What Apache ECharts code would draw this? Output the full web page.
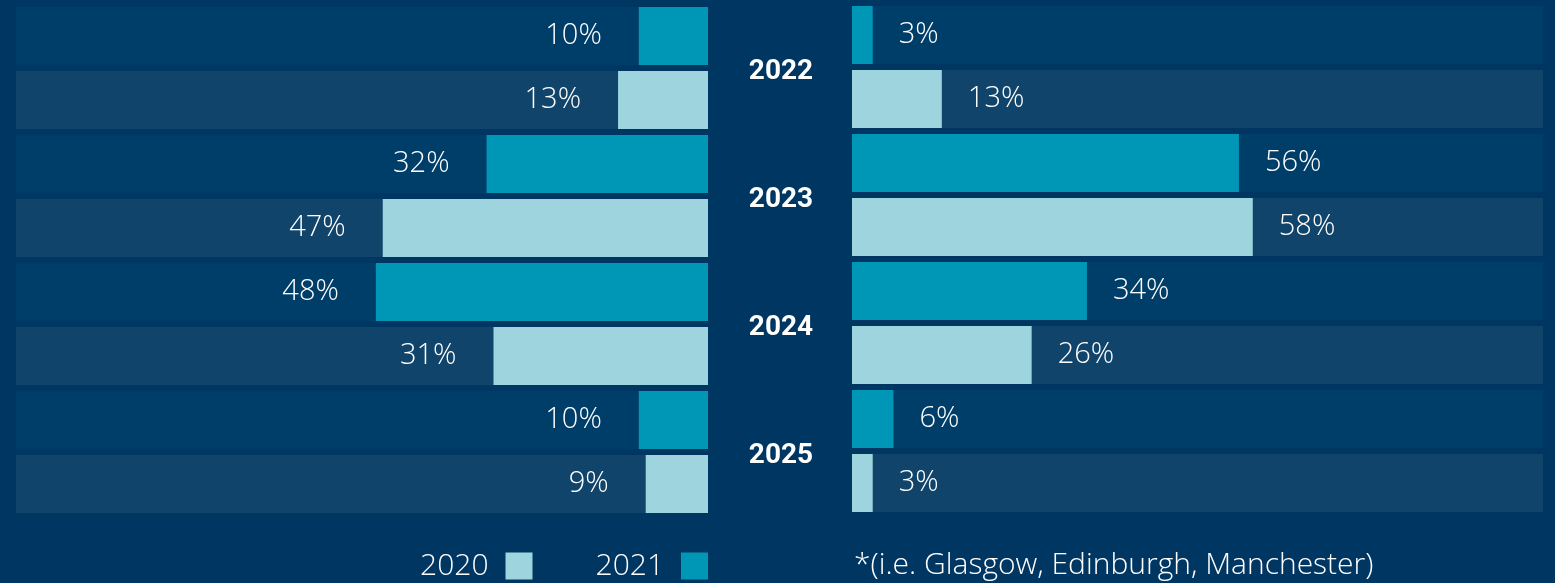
<!DOCTYPE html>
<html><head><meta charset="utf-8">
<script src="https://cdn.jsdelivr.net/npm/echarts@6/dist/echarts.min.js"></script>
<style>html,body{margin:0;padding:0;background:#003662;}#c{width:1555px;height:583px;}</style>
</head><body><div id="c"></div>
<script>
const years = ['2022','2023','2024','2025'];
const left2021 = [10, 32, 48, 10];
const left2020 = [13, 47, 31, 9];
const right2021 = [3, 56, 34, 6];
const right2020 = [13, 58, 26, 3];
const axisMax = 100;
const seriesNames = ['2020','2021'];
const footnote = '*(i.e. Glasgow, Edinburgh, Manchester)';

const C_BG = '#003662', C_ROW_A = '#003e6a', C_ROW_B = '#10446a', C_TEAL = '#0096b6', C_LIGHT = '#9dd4dd';
const FONT = 'Open Sans';

const rows = [];
years.forEach(y => { rows.push(y + ' 2021'); rows.push(y + ' 2020'); });
function build(v2021, v2020) {
  const a = [], b = [];
  years.forEach((y, i) => { a.push(v2021[i]); a.push('-'); b.push('-'); b.push(v2020[i]); });
  return {a, b};
}
const L = build(left2021, left2020), R = build(right2021, right2020);
const bgData = rows.map((r, i) => ({value: axisMax, itemStyle: {color: i % 2 === 0 ? C_ROW_A : C_ROW_B}}));

const labelFont = {color: '#ffffff', fontSize: 29, fontFamily: FONT, fontWeight: 300, padding: [4, 0, 0, 0]};
function panel(idx, inverse, data) {
  const pos = inverse ? 'left' : 'right';
  const dist = inverse ? 37 : 26;
  return [
    {type: 'bar', name: 'bg', xAxisIndex: idx, yAxisIndex: idx, data: bgData, barGap: '-100%', barCategoryGap: '9.4%', silent: true, z: 1},
    {type: 'bar', name: '2021', xAxisIndex: idx, yAxisIndex: idx, data: data.a, barGap: '-100%', barCategoryGap: '9.4%', itemStyle: {color: C_TEAL}, z: 2,
      label: Object.assign({show: true, position: pos, distance: dist, formatter: '{c}%'}, labelFont)},
    {type: 'bar', name: '2020', xAxisIndex: idx, yAxisIndex: idx, data: data.b, barGap: '-100%', barCategoryGap: '9.4%', itemStyle: {color: C_LIGHT}, z: 2,
      label: Object.assign({show: true, position: pos, distance: dist, formatter: '{c}%'}, labelFont)}
  ];
}

const chart = echarts.init(document.getElementById('c'));
chart.setOption({
  backgroundColor: C_BG,
  animation: false,
  grid: [
    {left: 16, width: 692, top: 4, height: 512},
    {left: 852, width: 691, top: 3, height: 512},
    {left: 781, width: 1, top: 8, height: 512}
  ],
  xAxis: [
    {type: 'value', gridIndex: 0, min: 0, max: axisMax, inverse: true, show: false},
    {type: 'value', gridIndex: 1, min: 0, max: axisMax, show: false},
    {type: 'value', gridIndex: 2, min: 0, max: 1, show: false}
  ],
  yAxis: [
    {type: 'category', gridIndex: 0, data: rows, inverse: true, show: false},
    {type: 'category', gridIndex: 1, data: rows, inverse: true, show: false},
    {type: 'category', gridIndex: 2, data: years, inverse: true,
      axisLine: {show: false}, axisTick: {show: false}, splitLine: {show: false},
      axisLabel: {show: true, margin: 0, align: 'center', color: '#ffffff', fontSize: 28, fontWeight: 'bold', fontFamily: 'Roboto'}}
  ],
  legend: {
    data: seriesNames, right: 842, top: 546, align: 'right', itemWidth: 27, itemHeight: 27, itemGap: 63,
    icon: 'rect', selectedMode: false,
    textStyle: {color: '#ffffff', fontSize: 30, fontFamily: FONT, fontWeight: 300, padding: [0, 12, 0, 0]}
  },
  title: {text: footnote, left: 849, top: 545, textStyle: {color: '#ffffff', fontSize: 30, fontWeight: 300, fontFamily: FONT}},
  series: [].concat(panel(0, true, L), panel(1, false, R))
});
</script></body></html>
